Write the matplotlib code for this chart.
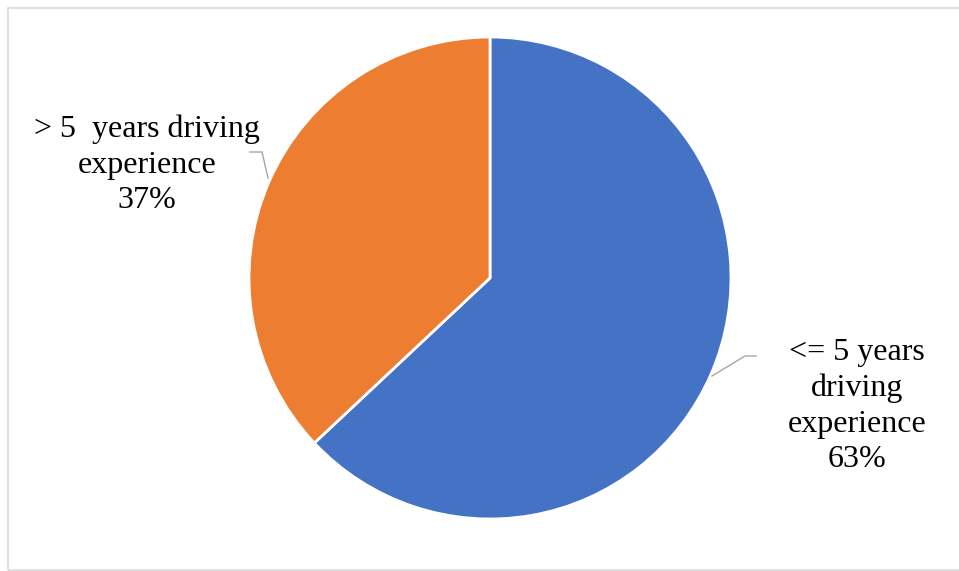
import matplotlib.pyplot as plt
import numpy as np
from matplotlib.patches import Rectangle

labels = ['<= 5 years\ndriving\nexperience\n63%', '> 5  years driving\nexperience\n37%']
shares = [63, 37]
colors = ['#4472C4', '#ED7D31']

W, H = 959, 571
fig = plt.figure(figsize=(W / 100, H / 100), dpi=100)
ax = fig.add_axes([0, 0, 1, 1])

# chart frame
ax.add_patch(Rectangle((8, 1), W + 10, H - 9, fill=False, edgecolor='#D9D9D9', lw=1.2))

cx, cy, r = 490, H - 278, 241
wedges, _ = ax.pie(shares, colors=colors, startangle=90, counterclock=False,
                   center=(cx, cy), radius=r, frame=True,
                   wedgeprops=dict(edgecolor='white', linewidth=2))
ax.set_xlim(0, W)
ax.set_ylim(0, H)
ax.set_aspect('equal')
ax.axis('off')

font = dict(family='Liberation Serif', fontsize=23, color='black',
            ha='center', va='center', linespacing=1.3)

# leader lines
ax.plot([712, 745, 756], [H - 376, H - 356, H - 356], color='#A6A6A6', lw=1)
ax.plot([268, 262, 250], [H - 178, H - 152, H - 152], color='#A6A6A6', lw=1)

ax.text(857, H - 406, labels[0], **font)
ax.text(147, H - 165, labels[1], **font)

fig.savefig('out.png', dpi=100)
